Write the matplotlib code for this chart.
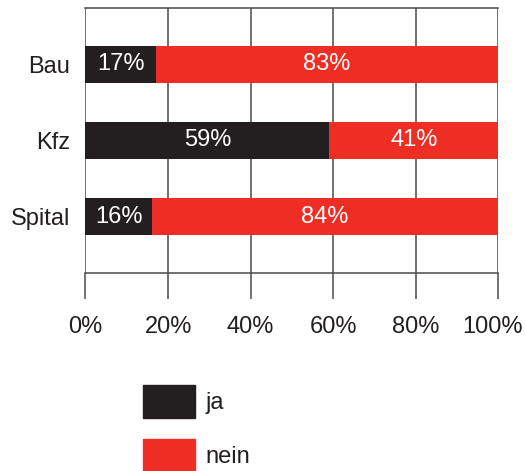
import matplotlib.pyplot as plt
from matplotlib.patches import Patch
from matplotlib.transforms import ScaledTranslation

plt.rcParams['font.family'] = ['Liberation Sans', 'DejaVu Sans']

categories = ['Bau', 'Kfz', 'Spital']
ja = [17, 59, 16]
nein = [83, 41, 84]
ticks = [0, 20, 40, 60, 80, 100]

black = '#231f20'
red = '#ee2e24'
grid = '#4a4a4a'

fig = plt.figure(figsize=(5.26, 4.71), dpi=100)
ax = fig.add_axes([0.1625, 0.4204, 0.9477 - 0.1625, 0.983 - 0.4204])

y = list(range(len(categories)))
ax.barh(y, ja, height=0.49, color=black, zorder=3)
ax.barh(y, nein, left=ja, height=0.49, color=red, zorder=3)

fs = 17
for i in y:
    ax.text(ja[i] / 2, i, f'{ja[i]}%', color='white', ha='center', va='center',
            fontsize=fs, zorder=4)
    ax.text(ja[i] + nein[i] / 2, i, f'{nein[i]}%', color='white', ha='center',
            va='center', fontsize=fs, zorder=4)

ax.set_xlim(0, 100)
ax.set_ylim(2.74, -0.74)
ax.set_xticks(ticks)
ax.set_xticklabels([f'{t}%' for t in ticks], fontsize=fs, color=black)
ax.set_yticks(y)
ax.set_yticklabels(categories, fontsize=fs, color=black)
ax.tick_params(axis='y', length=0, pad=11)
ax.tick_params(axis='x', length=19, width=1.1, color=grid, pad=12)
ax.xaxis.grid(True, color=grid, linewidth=1.1, zorder=1)
for s in ['left', 'right']:
    ax.spines[s].set_visible(False)
for s in ['top', 'bottom']:
    ax.spines[s].set_color(grid)
    ax.spines[s].set_linewidth(1.1)

# last tick label sits a bit left so it stays inside the image
last = ax.get_xticklabels()[-1]
last.set_transform(last.get_transform() + ScaledTranslation(-0.06, 0, fig.dpi_scale_trans))

handles = [Patch(color=black, label='ja'), Patch(color=red, label='nein')]
fig.legend(handles=handles, loc='upper left', bbox_to_anchor=(143 / 526, 1 - 385 / 471),
           frameon=False, fontsize=fs, handlelength=2.2, handleheight=1.75,
           labelspacing=0.9, handletextpad=0.45, borderpad=0, borderaxespad=0,
           labelcolor=black)

fig.savefig('out.png', dpi=100)
